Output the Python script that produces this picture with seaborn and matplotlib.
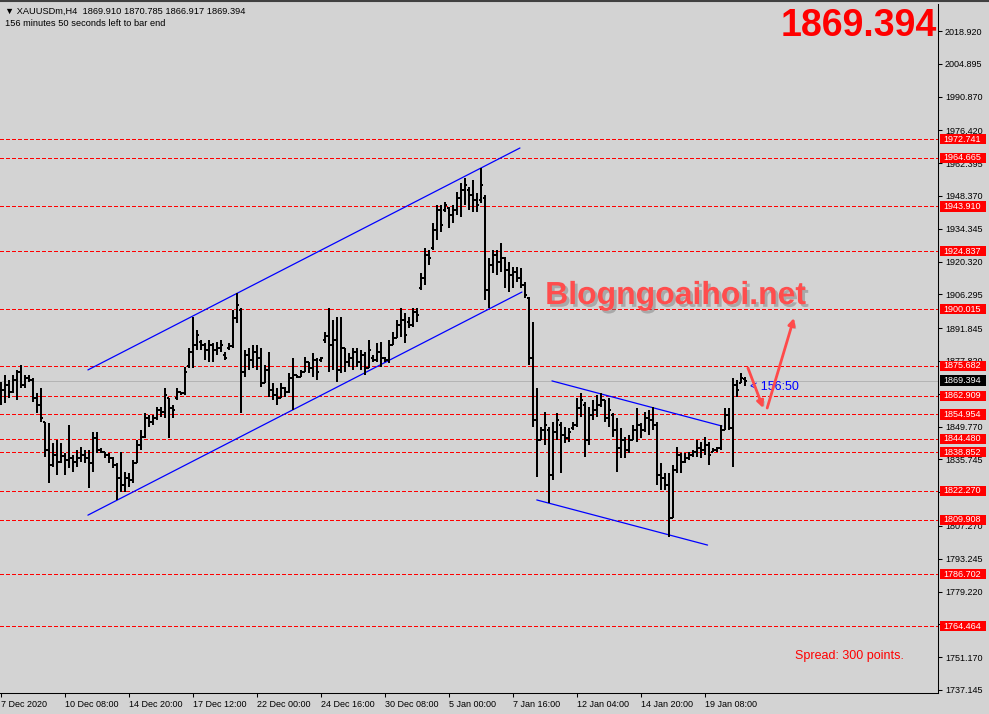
import numpy as np
import pandas as pd
import matplotlib
matplotlib.use("Agg")
import matplotlib.pyplot as plt
import matplotlib.transforms as mtransforms
import matplotlib.patheffects as pe
from matplotlib.patches import Rectangle
import seaborn as sns

# H4 bars XAUUSDm
opens = [
    1862.0, 1865.4, 1867.6, 1864.5, 1869.7, 1873.1, 1867.6, 1870.5, 1869.7, 1862.0,
    1859.0, 1851.7, 1839.8, 1833.3, 1837.6, 1834.6, 1837.2, 1835.5, 1836.3, 1834.6,
    1836.3, 1837.6, 1836.3, 1834.2, 1844.9, 1839.8, 1838.9, 1837.6, 1836.3, 1833.3,
    1827.8, 1824.8, 1827.8, 1826.9, 1834.2, 1841.9, 1845.3, 1853.4, 1851.7, 1853.4,
    1856.9, 1856.0, 1862.0, 1857.7, 1862.0, 1864.5, 1864.1, 1875.7, 1881.6, 1884.7,
    1885.9, 1884.7, 1882.5, 1884.7, 1882.5, 1883.4, 1880.4, 1883.4, 1884.3, 1896.2,
    1899.6, 1873.1, 1880.4, 1878.2, 1881.6, 1879.1, 1868.4, 1874.0, 1865.4, 1863.3,
    1862.0, 1866.3, 1864.5, 1870.5, 1871.8, 1871.0, 1873.1, 1877.3, 1874.8, 1878.2,
    1878.2, 1886.8, 1888.5, 1884.7, 1886.8, 1874.0, 1883.4, 1877.3, 1879.1, 1881.6,
    1877.3, 1880.4, 1874.8, 1879.1, 1878.2, 1881.6, 1879.1, 1878.2, 1884.7, 1887.6,
    1893.2, 1895.3, 1894.4, 1893.2, 1898.7, 1909.0, 1913.3, 1923.1, 1926.1, 1933.8,
    1942.4, 1942.4, 1943.2, 1940.2, 1942.4, 1947.5, 1950.9, 1950.9, 1948.8, 1946.7,
    1946.7, 1947.5, 1908.2, 1918.9, 1923.1, 1920.1, 1921.8, 1916.7, 1914.6, 1915.8,
    1913.3, 1910.3, 1904.7, 1879.1, 1852.6, 1844.0, 1848.3, 1848.3, 1829.1, 1847.4,
    1850.4, 1846.2, 1844.9, 1849.1, 1850.4, 1857.7, 1859.0, 1844.0, 1854.7, 1856.9,
    1859.0, 1861.1, 1853.4, 1854.7, 1848.3, 1840.6, 1844.0, 1839.8, 1844.0, 1848.3,
    1850.4, 1848.3, 1853.4, 1852.6, 1850.4, 1829.1, 1827.8, 1824.8, 1810.7, 1831.2,
    1837.6, 1834.6, 1836.3, 1837.6, 1838.9, 1840.6, 1839.8, 1841.9, 1838.9, 1839.8,
    1840.6, 1848.3, 1854.7, 1849.1, 1867.6, 1868.4, 1869.910,
]
highs = [
    1868.8, 1871.8, 1869.7, 1871.8, 1874.0, 1876.1, 1871.8, 1871.8, 1870.5, 1864.1,
    1866.3, 1851.7, 1851.3, 1842.7, 1844.0, 1842.7, 1838.5, 1850.4, 1837.6, 1839.8,
    1841.0, 1839.8, 1839.8, 1847.4, 1847.4, 1840.6, 1838.9, 1838.5, 1836.7, 1834.2,
    1838.9, 1830.3, 1829.9, 1835.5, 1844.0, 1848.3, 1855.6, 1854.7, 1854.7, 1858.1,
    1858.1, 1866.3, 1862.0, 1859.0, 1866.3, 1864.5, 1875.2, 1883.4, 1896.6, 1891.1,
    1886.8, 1885.5, 1886.8, 1885.5, 1885.9, 1886.8, 1881.6, 1885.5, 1899.6, 1906.9,
    1900.5, 1882.5, 1883.4, 1884.7, 1884.7, 1883.4, 1876.1, 1881.6, 1868.4, 1866.3,
    1868.4, 1866.7, 1872.7, 1879.1, 1871.8, 1874.0, 1879.5, 1877.3, 1881.2, 1879.1,
    1879.5, 1890.2, 1900.5, 1895.3, 1896.6, 1896.6, 1883.4, 1881.2, 1883.4, 1883.4,
    1882.5, 1881.6, 1886.8, 1880.4, 1885.5, 1885.9, 1879.5, 1886.8, 1890.2, 1895.3,
    1900.5, 1898.3, 1896.6, 1900.5, 1900.5, 1915.4, 1926.1, 1925.3, 1936.8, 1944.5,
    1944.5, 1945.8, 1943.6, 1944.5, 1950.0, 1953.9, 1956.1, 1952.2, 1955.2, 1949.6,
    1960.3, 1948.8, 1921.8, 1925.3, 1925.3, 1928.3, 1922.2, 1920.1, 1918.0, 1918.0,
    1917.6, 1911.6, 1905.1, 1894.4, 1866.3, 1849.5, 1856.0, 1849.5, 1851.7, 1855.6,
    1851.7, 1849.5, 1849.1, 1851.7, 1862.0, 1864.1, 1860.2, 1858.1, 1861.1, 1863.3,
    1864.1, 1861.1, 1862.0, 1855.6, 1853.4, 1849.1, 1845.3, 1846.2, 1850.4, 1857.7,
    1851.3, 1856.0, 1856.9, 1858.1, 1851.7, 1834.2, 1829.9, 1829.9, 1833.3, 1841.0,
    1838.5, 1838.5, 1838.9, 1839.8, 1844.0, 1843.2, 1845.3, 1843.2, 1840.6, 1841.0,
    1850.4, 1857.7, 1857.7, 1870.5, 1869.7, 1872.7, 1870.785,
]
lows = [
    1859.0, 1859.8, 1862.0, 1864.1, 1861.1, 1866.3, 1866.3, 1868.8, 1860.2, 1855.6,
    1851.7, 1836.7, 1825.6, 1832.4, 1829.1, 1834.2, 1829.1, 1832.0, 1830.3, 1832.4,
    1834.6, 1834.2, 1823.5, 1830.3, 1838.5, 1838.5, 1836.3, 1834.2, 1832.0, 1818.4,
    1821.8, 1821.8, 1823.9, 1825.6, 1834.2, 1839.8, 1844.9, 1849.5, 1850.4, 1852.6,
    1853.8, 1853.4, 1844.9, 1853.4, 1861.1, 1863.3, 1863.3, 1874.8, 1874.8, 1882.5,
    1882.5, 1878.2, 1877.3, 1877.3, 1880.4, 1881.6, 1878.2, 1882.5, 1883.4, 1894.0,
    1855.6, 1870.9, 1874.0, 1874.8, 1874.0, 1866.7, 1868.4, 1862.4, 1861.1, 1859.0,
    1862.0, 1862.4, 1864.1, 1856.9, 1870.5, 1871.0, 1873.1, 1872.7, 1871.0, 1869.7,
    1877.3, 1885.5, 1873.1, 1874.0, 1868.8, 1872.7, 1873.1, 1875.2, 1874.0, 1875.2,
    1874.0, 1871.8, 1874.8, 1877.3, 1877.3, 1875.2, 1877.3, 1876.9, 1884.7, 1887.6,
    1888.0, 1885.5, 1891.9, 1892.3, 1894.4, 1908.2, 1910.3, 1918.9, 1925.3, 1929.6,
    1932.9, 1941.5, 1934.7, 1936.8, 1940.2, 1939.3, 1944.5, 1942.4, 1941.5, 1941.5,
    1945.4, 1903.9, 1900.5, 1915.4, 1914.6, 1915.8, 1909.0, 1907.3, 1909.0, 1911.6,
    1909.0, 1904.7, 1876.1, 1849.5, 1828.2, 1844.0, 1841.9, 1817.1, 1826.9, 1844.0,
    1829.9, 1842.7, 1843.2, 1848.3, 1849.5, 1853.8, 1836.7, 1841.9, 1852.6, 1853.8,
    1858.1, 1851.7, 1849.5, 1845.3, 1830.3, 1836.3, 1836.3, 1838.5, 1844.0, 1843.2,
    1844.9, 1847.4, 1846.2, 1848.3, 1824.8, 1822.7, 1822.7, 1802.5, 1810.7, 1829.9,
    1829.9, 1834.2, 1835.5, 1836.7, 1836.7, 1836.3, 1837.6, 1833.3, 1838.9, 1838.9,
    1839.8, 1848.3, 1848.3, 1832.4, 1862.4, 1868.4, 1866.917,
]
closes = [
    1865.4, 1867.6, 1864.5, 1869.7, 1873.1, 1867.6, 1870.5, 1869.7, 1862.0, 1859.0,
    1853.4, 1839.8, 1833.3, 1837.6, 1834.6, 1837.2, 1835.5, 1836.3, 1834.6, 1836.3,
    1837.6, 1836.3, 1834.2, 1844.9, 1839.8, 1838.9, 1837.6, 1836.3, 1833.3, 1827.8,
    1824.8, 1827.8, 1826.9, 1834.2, 1841.9, 1845.3, 1853.4, 1851.7, 1853.4, 1856.9,
    1856.0, 1863.3, 1857.7, 1856.9, 1864.5, 1864.1, 1873.1, 1881.6, 1884.7, 1888.9,
    1884.7, 1882.5, 1884.7, 1882.5, 1883.4, 1884.7, 1879.1, 1884.3, 1896.2, 1901.8,
    1873.1, 1880.4, 1878.2, 1881.6, 1879.1, 1868.4, 1874.0, 1865.4, 1863.3, 1862.0,
    1866.3, 1864.5, 1870.5, 1871.8, 1871.0, 1873.1, 1877.3, 1874.8, 1878.2, 1873.1,
    1879.1, 1888.5, 1884.7, 1886.8, 1874.0, 1883.4, 1877.3, 1879.1, 1881.6, 1877.3,
    1880.4, 1874.8, 1882.5, 1878.2, 1881.6, 1879.1, 1878.2, 1884.7, 1887.6, 1893.2,
    1895.3, 1888.9, 1893.2, 1898.7, 1897.5, 1913.3, 1923.1, 1921.8, 1933.8, 1942.4,
    1936.0, 1944.5, 1940.2, 1942.4, 1947.5, 1950.9, 1953.1, 1948.8, 1946.7, 1944.5,
    1953.1, 1908.2, 1918.9, 1923.1, 1920.1, 1921.8, 1916.7, 1914.6, 1915.8, 1913.3,
    1910.3, 1906.0, 1879.1, 1852.6, 1844.0, 1848.3, 1850.4, 1829.1, 1847.4, 1852.6,
    1846.2, 1844.9, 1847.4, 1850.4, 1857.7, 1861.1, 1844.0, 1854.7, 1856.9, 1859.0,
    1861.1, 1853.4, 1856.9, 1848.3, 1840.6, 1844.0, 1839.8, 1844.0, 1848.3, 1850.4,
    1848.3, 1853.4, 1852.6, 1850.4, 1829.1, 1827.8, 1824.8, 1810.7, 1831.2, 1837.6,
    1834.6, 1836.3, 1837.6, 1838.9, 1840.6, 1839.8, 1841.9, 1837.6, 1839.8, 1840.6,
    1848.3, 1854.7, 1849.1, 1867.6, 1865.4, 1870.5, 1869.394,
]

# horizontal levels drawn on the chart
levels = [1972.741, 1964.665, 1943.910, 1924.837, 1900.015, 1875.682, 1862.909,
          1854.954, 1844.480, 1838.852, 1822.270, 1809.908, 1786.702, 1764.464]
bid = 1869.394

# trend lines (bar index, price) start -> end
trend_x0 = [21.8, 21.8, 137.8, 134.0]
trend_y0 = [1874.0, 1811.9, 1869.3, 1818.4]
trend_x1 = [129.8, 130.3, 180.3, 176.7]
trend_y1 = [1968.9, 1907.3, 1850.0, 1799.1]

# axis ticks (labels hidden under the price boxes are left blank)
price_ticks = [2018.920, 2004.895, 1990.870, 1976.420, 1962.395, 1948.370, 1934.345,
               1920.320, 1906.295, 1891.845, 1877.820, 1863.795, 1849.770, 1835.745,
               1821.720, 1807.270, 1793.245, 1779.220, 1765.195, 1751.170, 1737.145]
hidden_ticks = [1863.795, 1821.720, 1765.195]
time_labels = ["7 Dec 2020", "10 Dec 08:00", "14 Dec 20:00", "17 Dec 12:00",
               "22 Dec 00:00", "24 Dec 16:00", "30 Dec 08:00", "5 Jan 00:00",
               "7 Jan 16:00", "12 Jan 04:00", "14 Jan 20:00", "19 Jan 08:00"]

bars = pd.DataFrame({'open': opens, 'high': highs, 'low': lows, 'close': closes})
bars['x'] = np.arange(len(bars))

trend = pd.DataFrame({
    'x': trend_x0 + trend_x1,
    'y': trend_y0 + trend_y1,
    'line': list(range(4)) * 2,
})

bg = '#D3D3D3'
sns.set_style('white', {'axes.facecolor': bg, 'figure.facecolor': bg})
plt.rcParams['font.family'] = ['Liberation Sans', 'DejaVu Sans']

fig = plt.figure(figsize=(9.89, 7.14), dpi=100)
ax = fig.add_axes([0, 21 / 714, 938 / 989, 689 / 714])

# levels + bid line
for lv in levels:
    ax.axhline(lv, color='red', lw=0.72, dashes=(4, 2.5), antialiased=False, zorder=1)
ax.axhline(bid, color='#B4B4B4', lw=0.72, antialiased=False, zorder=1)

# OHLC bars
ax.vlines(bars['x'], bars['low'], bars['high'], color='black', lw=1.1,
          antialiased=False, zorder=3)
ax.hlines(bars['open'], bars['x'] - 0.55, bars['x'], color='black', lw=1.1,
          antialiased=False, zorder=3)
ax.hlines(bars['close'], bars['x'], bars['x'] + 0.55, color='black', lw=1.1,
          antialiased=False, zorder=3)

# channels
sns.lineplot(data=trend, x='x', y='y', units='line', estimator=None,
             color='blue', lw=0.9, ax=ax, legend=False, zorder=2)

ax.set_xlim(-0.175, 234.3)
ax.set_ylim(1735.85, 2030.47)
ax.set_xlabel('')
ax.set_ylabel('')

ax.yaxis.tick_right()
ax.set_yticks(price_ticks)
ax.set_yticklabels(['' if v in hidden_ticks else f'{v:.3f}' for v in price_ticks])
ax.tick_params(axis='y', direction='out', length=3, width=0.75, pad=2,
               labelsize=6.5, colors='black', right=True, left=False)
ax.set_xticks(range(0, 16 * len(time_labels), 16))
ax.set_xticklabels(time_labels, ha='left')
ax.tick_params(axis='x', direction='out', length=3, width=0.75, pad=2,
               labelsize=6.5, colors='black', bottom=True)
for s in ['left', 'top']:
    ax.spines[s].set_visible(False)
for s in ['right', 'bottom']:
    ax.spines[s].set_color('black')
    ax.spines[s].set_linewidth(0.75)

# price boxes on the right axis
blend = mtransforms.blended_transform_factory(ax.transAxes, ax.transData)
for lv, fc in [(v, 'red') for v in levels] + [(bid, 'black')]:
    ax.add_patch(Rectangle((940 / 938, lv - 2.25), 46 / 938, 4.5, transform=blend,
                           fc=fc, ec='none', clip_on=False, zorder=6))
    ax.text(943 / 938, lv, f'{lv:.3f}', transform=blend, ha='left', va='center',
            color='white', fontsize=6.5, clip_on=False, zorder=7)

# header
fig.text(5 / 989, 1 - 11 / 714, '\u25bc XAUUSDm,H4  1869.910 1870.785 1866.917 1869.394',
         fontsize=6.7, va='center', ha='left', color='black')
fig.text(5 / 989, 1 - 24 / 714, '156 minutes 50 seconds left to bar end',
         fontsize=6.7, va='center', ha='left', color='black')
fig.add_artist(plt.Line2D([0, 1], [1 - 1 / 714] * 2, color='#404040', lw=1.5,
                          transform=fig.transFigure))
fig.text(937 / 989, 1 - 26 / 714, f'{bid:.3f}', fontsize=27, fontweight='bold',
         color='red', ha='right', va='center')

ax.text(136.1, 1905.6, 'Blogngoaihoi.net', fontsize=23, fontweight='bold',
        color='#FF4D4D', ha='left', va='center', zorder=8,
        path_effects=[pe.withSimplePatchShadow(offset=(2, -2), shadow_rgbFace='#808080', alpha=0.5)])
ax.text(187.3, 1866.7, '< 156:50', color='blue', fontsize=9, ha='left', va='center', zorder=8)
ax.text(198.6, 1751.7, 'Spread: 300 points.', color='red', fontsize=9, ha='left',
        va='center', zorder=8)

# hand-drawn arrows
for start, end in [((186.8, 1874.8), (190.6, 1857.7)), ((191.6, 1857.7), (198.3, 1896.2))]:
    ann = ax.annotate('', xy=end, xytext=start, zorder=8,
                      arrowprops=dict(arrowstyle='-|>', color='#FF4A4A', lw=2,
                                      mutation_scale=10, shrinkA=0, shrinkB=0))
    ann.arrow_patch.set_path_effects([pe.withSimplePatchShadow(offset=(1.5, -1.5),
                                                                shadow_rgbFace='#808080', alpha=0.4)])

fig.savefig('out.png', dpi=100, facecolor=bg)
